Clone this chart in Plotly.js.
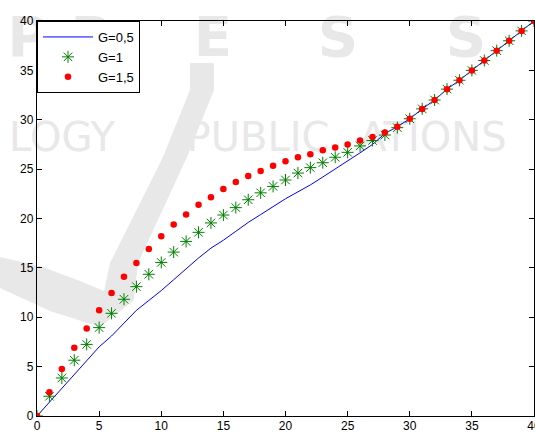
<!DOCTYPE html>
<html>
<head>
<meta charset="utf-8">
<script src="https://cdn.plot.ly/plotly-3.0.1.min.js"></script>
<style>
html,body{margin:0;padding:0;background:#fff;}
#chart{width:535px;height:432px;}
</style>
</head>
<body>
<div id="chart"></div>
<script>
// ---- data ----
const xValues = [0,1,2,3,4,5,6,7,8,9,10,11,12,13,14,15,16,17,18,19,20,21,22,23,24,25,26,27,28,29,30,31,32,33,34,35,36,37,38,39,40];
const g05 = [0,1.4,2.8,4.2,5.6,7.0,8.1,9.4,10.7,11.7,12.7,13.8,14.9,16.0,17.0,17.8,18.7,19.6,20.4,21.2,22.0,22.7,23.4,24.2,25.0,25.8,26.65,27.5,28.6,29.3,30.1,31.1,32.0,33.1,34.0,35.0,36.0,37.0,38.0,39.0,40.0];
const g1 = [0,2.0,3.85,5.65,7.25,8.95,10.4,11.82,13.1,14.35,15.55,16.6,17.68,18.6,19.55,20.35,21.1,21.9,22.6,23.25,23.9,24.6,25.15,25.65,26.2,26.7,27.35,27.9,28.45,29.2,30.1,31.1,32.0,33.1,34.0,35.0,36.0,37.0,38.0,39.0,40.0];
const g15 = [0,2.4,4.75,6.9,8.85,10.7,12.45,14.1,15.5,16.9,18.2,19.4,20.4,21.4,22.15,23.0,23.7,24.3,24.8,25.35,25.8,26.2,26.5,26.9,27.2,27.5,27.9,28.25,28.7,29.3,30.1,31.1,32.0,33.1,34.0,35.0,36.0,37.0,38.0,39.0,40.0];
const seriesNames = ['G=0,5','G=1','G=1,5'];
const xTicks = [0,5,10,15,20,25,30,35,40];
const yTicks = [0,5,10,15,20,25,30,35,40];

// ---- decorative watermark (background) ----
const WM = '#e8e8e8';
const PL = 37, PR = 534, PT = 21, PB = 416;
function px(x){ return (x-PL)/(PR-PL); }
function py(y){ return (PB-y)/(PB-PT); }
function pathFrom(pts){ return pts.map((p,i)=>(i?'L':'M')+px(p[0]).toFixed(4)+','+py(p[1]).toFixed(4)).join(' ')+' Z'; }
const swoosh = [[0,257],[40,266],[80,281],[104,291],[110,263],[163,157],[190,90],[190,63],[214,63],[214,90],[187,157],[138,263],[134,300],[100,327],[50,311],[0,288]];
const wmShapes = [
  {type:'path', xref:'paper', yref:'paper', layer:'below', path:pathFrom(swoosh), fillcolor:WM, line:{width:0}}
];
function wmText(txt, cx, cy, size, weight){
  return {type:'rect', xref:'paper', yref:'paper', layer:'below',
    x0:px(cx-60), x1:px(cx+60), y0:py(cy+20), y1:py(cy-20),
    line:{width:0}, fillcolor:'rgba(0,0,0,0)',
    label:{text:txt, textposition:'middle center', font:{family:'DejaVu Sans', size:size, color:WM, weight:weight}}};
}
[['P',28],['R',92],['E',213],['S',338],['S',466]].forEach(l=>wmShapes.push(wmText(l[0], l[1], 32, 56, 'bold')));
wmShapes.push(wmText('LOGY', 62, 134, 40, 'normal'));
wmShapes.push(wmText('PUBLIC', 258, 134, 40, 'normal'));
wmShapes.push(wmText('ATIONS', 433, 134, 40, 'normal'));

const font = {family:'Liberation Sans, Arial, sans-serif', size:12, color:'#000'};

const traces = [
  {x:xValues, y:g05, name:seriesNames[0], type:'scatter', mode:'lines', line:{color:'#0000ff', width:1}},
  {x:xValues, y:g1, name:seriesNames[1], type:'scatter', mode:'markers', marker:{symbol:'asterisk-open', size:10, color:'#008000', line:{color:'#008000', width:1}}},
  {x:xValues, y:g15, name:seriesNames[2], type:'scatter', mode:'markers', marker:{symbol:'circle', size:6.5, color:'#ff0000', line:{width:0}}}
];

const axisCommon = {
  range:[0,40], showgrid:false, zeroline:false, showline:true, linecolor:'#000', linewidth:1.2,
  mirror:'ticks', ticks:'inside', ticklen:5, tickcolor:'#000', tickwidth:1, tickfont:font
};

const layout = {
  width:535, height:432,
  margin:{l:37, r:1, t:21, b:16, pad:0},
  paper_bgcolor:'rgba(255,255,255,0)', plot_bgcolor:'rgba(255,255,255,0)',
  font:font,
  showlegend:true,
  legend:{x:0, y:1, xanchor:'left', yanchor:'top', bgcolor:'#fff', bordercolor:'#000', borderwidth:1,
          font:{family:'Liberation Sans, Arial, sans-serif', size:13, color:'#000'}, itemwidth:50, tracegroupgap:0},
  xaxis:Object.assign({}, axisCommon, {tickvals:xTicks, ticktext:xTicks.map(String), ticklabeloverflow:'allow', ticklabelstandoff:-2}),
  yaxis:Object.assign({}, axisCommon, {tickvals:yTicks, ticktext:yTicks.map(String)}),
  shapes:wmShapes
};

Plotly.newPlot('chart', traces, layout, {displayModeBar:false, staticPlot:true});
</script>
</body>
</html>
